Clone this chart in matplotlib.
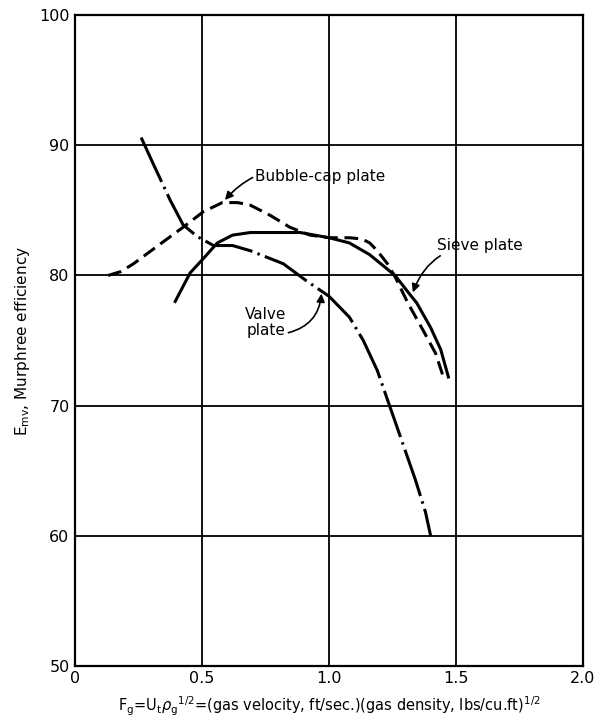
import numpy as np
import matplotlib
matplotlib.use("Agg")
import matplotlib.pyplot as plt

# Murphree efficiency vs F-factor
bubble_x = [0.13, 0.18, 0.23, 0.32, 0.425, 0.505, 0.58, 0.64, 0.69, 0.77, 0.846, 0.925, 1.00, 1.08, 1.13, 1.16, 1.19, 1.23, 1.26, 1.31, 1.37, 1.42, 1.45]
bubble_y = [80.0, 80.3, 80.9, 82.2, 83.7, 84.9, 85.6, 85.6, 85.4, 84.6, 83.7, 83.1, 82.9, 82.9, 82.8, 82.5, 81.9, 80.9, 79.9, 77.9, 75.8, 74.0, 72.2]

sieve_x = [0.394, 0.453, 0.505, 0.56, 0.62, 0.69, 0.80, 0.886, 1.00, 1.08, 1.16, 1.21, 1.26, 1.32, 1.345, 1.40, 1.44, 1.47]
sieve_y = [78.0, 80.2, 81.3, 82.5, 83.1, 83.3, 83.3, 83.3, 82.9, 82.5, 81.6, 80.8, 80.0, 78.5, 77.9, 76.0, 74.3, 72.2]

valve_x = [0.26, 0.307, 0.374, 0.425, 0.48, 0.545, 0.62, 0.69, 0.82, 0.91, 1.00, 1.08, 1.135, 1.19, 1.24, 1.29, 1.34, 1.38, 1.40]
valve_y = [90.6, 88.6, 85.8, 83.9, 83.0, 82.3, 82.3, 81.9, 80.9, 79.6, 78.4, 76.8, 75.0, 72.7, 69.9, 67.1, 64.3, 61.8, 60.0]

x_ticks = [0, 0.5, 1.0, 1.5, 2.0]
x_ticklabels = ["0", "0.5", "1.0", "1.5", "2.0"]
y_ticks = [50, 60, 70, 80, 90, 100]

fig = plt.figure(figsize=(6.01, 7.23), dpi=100)
ax = fig.add_axes([0.125, 0.079, 0.845, 0.9])

ax.plot(bubble_x, bubble_y, color="black", lw=2.2, dashes=(4.5, 2.2), solid_joinstyle="round")
ax.plot(sieve_x, sieve_y, color="black", lw=2.2, solid_joinstyle="round")
ax.plot(valve_x, valve_y, color="black", lw=2.2, dashes=(16, 1.8, 0.8, 1.8), dash_joinstyle="round")

ax.set_xlim(0, 2.0)
ax.set_ylim(50, 100)
ax.set_xticks(x_ticks)
ax.set_xticklabels(x_ticklabels)
ax.set_yticks(y_ticks)
ax.tick_params(length=0, labelsize=11.5, pad=4)
ax.grid(True, color="black", lw=1.3)
for s in ax.spines.values():
    s.set_linewidth(1.6)

ax.set_ylabel("E$_{\\mathrm{mv}}$, Murphree efficiency", fontsize=11, labelpad=5)
ax.set_xlabel("F$_{\\mathrm{g}}$=U$_{\\mathrm{t}}\\rho_{\\mathrm{g}}$$^{1/2}$=(gas velocity, ft/sec.)(gas density, lbs/cu.ft)$^{1/2}$",
              fontsize=10.5, labelpad=6)

arrow = dict(arrowstyle="-|>", color="black", lw=1.2, mutation_scale=12, shrinkA=0, shrinkB=0)

ax.annotate("Bubble-cap plate", xy=(0.59, 85.8), xytext=(0.71, 87.6), fontsize=11, ha="left", va="center",
            arrowprops=dict(arrow, connectionstyle="arc3,rad=0.35"))
ax.annotate("Sieve plate", xy=(1.33, 78.7), xytext=(1.425, 82.3), fontsize=11, ha="left", va="center",
            arrowprops=dict(arrow, connectionstyle="arc3,rad=0.35"))
ax.text(0.75, 76.4, "Valve\nplate", fontsize=11, ha="center", va="center", linespacing=1.1)
ax.annotate("", xy=(0.97, 78.6), xytext=(0.84, 75.6),
            arrowprops=dict(arrow, connectionstyle="arc3,rad=0.35"))

fig.savefig("out.png", dpi=100)
